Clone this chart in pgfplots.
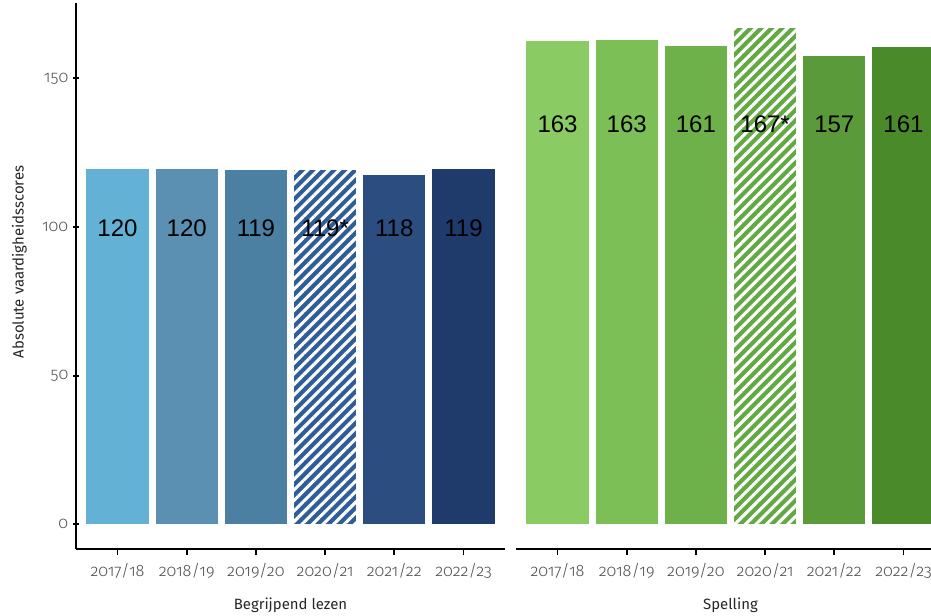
\documentclass[border=0pt]{standalone}
\usepackage{fontspec}
\usepackage{pgfplots}
\pgfplotsset{compat=1.18}
\usetikzlibrary{patterns.meta}
\setmainfont{Liberation Sans}
\newfontfamily\axfont{Fira Sans}[UprightFont=* Light, Numbers=OldStyle]
\newfontfamily\titfont{Fira Sans}[Numbers=OldStyle]
\newfontfamily\labfont{Liberation Sans}
\definecolor{b1}{HTML}{64B1D6}
\definecolor{b2}{HTML}{5B90B2}
\definecolor{b3}{HTML}{4C80A3}
\definecolor{b4}{HTML}{2F5D98}
\definecolor{b5}{HTML}{2B4D80}
\definecolor{b6}{HTML}{1F3B6C}
\definecolor{g1}{HTML}{8BCB63}
\definecolor{g2}{HTML}{7DBF57}
\definecolor{g3}{HTML}{6EB14B}
\definecolor{g4}{HTML}{62A843}
\definecolor{g5}{HTML}{5A9A3B}
\definecolor{g6}{HTML}{4A8A2B}
\definecolor{tickgray}{HTML}{4D4D4D}
\pgfplotsset{
  panel/.style={
    scale only axis, width=321.75pt, height=409.5pt,
    xmin=0.4, xmax=6.6, ymin=-8.35, ymax=175.35,
    xtick={1,2,3,4,5,6},
    xticklabels={2017/18,2018/19,2019/20,2020/21,2021/22,2022/23},
    axis x line=bottom,
    axis line style={-, line width=1.4pt, black},
    x axis line style={-}, y axis line style={-},
    tick align=outside, major tick length=4.5pt,
    every tick/.style={black, line width=1.4pt},
    xticklabel style={font=\axfont\fontsize{12.3}{14}\selectfont, text=tickgray, yshift=-3pt},
    yticklabel style={font=\axfont\fontsize{12.3}{14}\selectfont, text=tickgray},
    clip=false,
    every axis x label/.style={at={(axis description cs:0.5,0)}, yshift=-42pt, anchor=center, font=\titfont\fontsize{11.2}{14}\selectfont, text=black!85},
  },
  bar/.style={ybar, bar width=0.9, bar shift=0pt, draw=none, fill=#1},
  hbar/.style={ybar, bar width=0.9, bar shift=0pt, draw=none, fill=#1,
    postaction={pattern={Lines[angle=45,distance=5.6pt,line width=2.3pt]}, pattern color=white}},
}
\begin{document}
\begin{tikzpicture}
\begin{axis}[panel, at={(57pt,49.5pt)}, anchor=south west,
  axis y line=left, y axis line style={-}, every outer y axis line/.append style={-},
  ytick={0,50,100,150}, yticklabels={0,50,100,150},
  xlabel={Begrijpend lezen}]
\addplot[bar=b1] coordinates {(1,119.6)};
\addplot[bar=b2] coordinates {(2,119.6)};
\addplot[bar=b3] coordinates {(3,119.1)};
\addplot[hbar=b4] coordinates {(4,119.3)};
\addplot[bar=b5] coordinates {(5,117.6)};
\addplot[bar=b6] coordinates {(6,119.4)};
\node[font=\labfont\fontsize{18}{20}\selectfont] at (axis cs:1,99.6) {120};
\node[font=\labfont\fontsize{18}{20}\selectfont] at (axis cs:2,99.6) {120};
\node[font=\labfont\fontsize{18}{20}\selectfont] at (axis cs:3,99.6) {119};
\node[font=\labfont\fontsize{18}{20}\selectfont] at (axis cs:4,99.6) {119*};
\node[font=\labfont\fontsize{18}{20}\selectfont] at (axis cs:5,99.6) {118};
\node[font=\labfont\fontsize{18}{20}\selectfont] at (axis cs:6,99.6) {119};
\end{axis}
\begin{axis}[panel, at={(387pt,49.5pt)}, anchor=south west,
  axis y line=none, ytick=\empty,
  xlabel={Spelling}]
\addplot[bar=g1] coordinates {(1,162.6)};
\addplot[bar=g2] coordinates {(2,162.9)};
\addplot[bar=g3] coordinates {(3,160.9)};
\addplot[hbar=g4] coordinates {(4,166.8)};
\addplot[bar=g5] coordinates {(5,157.4)};
\addplot[bar=g6] coordinates {(6,160.6)};
\node[font=\labfont\fontsize{18}{20}\selectfont] at (axis cs:1,134.6) {163};
\node[font=\labfont\fontsize{18}{20}\selectfont] at (axis cs:2,134.6) {163};
\node[font=\labfont\fontsize{18}{20}\selectfont] at (axis cs:3,134.6) {161};
\node[font=\labfont\fontsize{18}{20}\selectfont] at (axis cs:4,134.6) {167*};
\node[font=\labfont\fontsize{18}{20}\selectfont] at (axis cs:5,134.6) {157};
\node[font=\labfont\fontsize{18}{20}\selectfont] at (axis cs:6,134.6) {161};
\end{axis}
\node[rotate=90, font=\titfont\fontsize{11.2}{14}\selectfont, text=black!85] at (14.5pt,264.75pt) {Absolute vaardigheidsscores};
\pgfresetboundingbox
\path[use as bounding box] (0pt,0pt) rectangle (698.25pt,461.25pt);
\end{tikzpicture}
\end{document}
